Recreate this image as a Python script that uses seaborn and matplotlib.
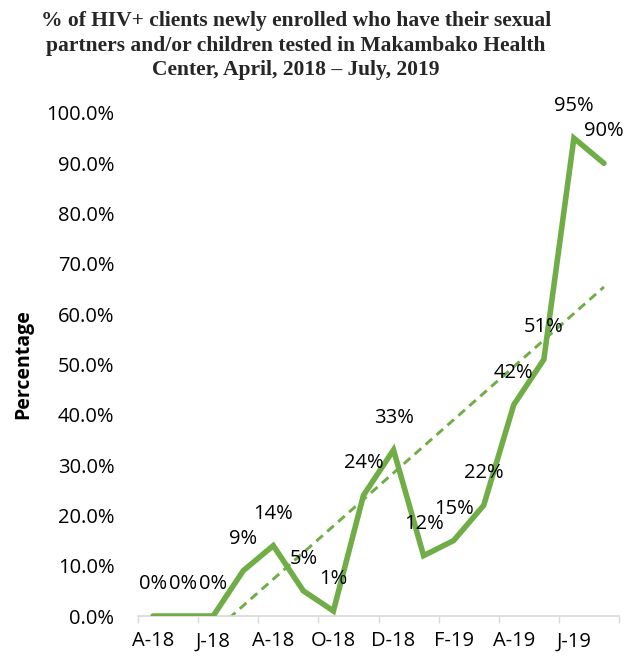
import numpy as np
import pandas as pd
import seaborn as sns
import matplotlib
matplotlib.use("Agg")
import matplotlib.pyplot as plt
from matplotlib.ticker import FixedLocator, PercentFormatter

months = ["A-18", "M-18", "J-18", "J-18", "A-18", "S-18", "O-18", "N-18",
          "D-18", "J-19", "F-19", "M-19", "A-19", "M-19", "J-19", "J-19"]
values = [0, 0, 0, 9, 14, 5, 1, 24, 33, 12, 15, 22, 42, 51, 95, 90]
labels = [f"{v}%" for v in values]
yticks = [0, 10, 20, 30, 40, 50, 60, 70, 80, 90, 100]

title = ("% of HIV+ clients newly enrolled who have their sexual\n"
         "partners and/or children tested in Makambako Health\n"
         "Center, April, 2018 \u2013 July, 2019")

sns.set_theme(style="white")
plt.rcParams["font.family"] = ["Open Sans", "DejaVu Sans"]

green = "#70AD47"
fs = 14.5
df = pd.DataFrame({"pos": np.arange(len(values)), "value": values})

fig = plt.figure(figsize=(6.35, 6.56), dpi=100)
ax = fig.add_axes([138/635, 40/656, (619-138)/635, (616-113)/656])

sns.lineplot(data=df, x="pos", y="value", ax=ax, color=green, linewidth=4.0,
             solid_joinstyle="miter", solid_capstyle="round", zorder=3)

# linear trendline
coef = np.polyfit(df["pos"] + 1, df["value"], 1)
trend = np.polyval(coef, df["pos"] + 1)
ax.plot(df["pos"], trend, color=green, linewidth=2.1, linestyle=(0, (3.0, 2.0)),
        zorder=2)

for x, v, lab in zip(df["pos"], values, labels):
    ax.annotate(lab, (x, v), xytext=(0, 32), textcoords="offset pixels",
                ha="center", va="center", fontsize=fs, color="#000000",
                annotation_clip=False)

ax.set_xlim(-0.5, len(values) - 0.5)
ax.set_ylim(0, 100)
ax.set_yticks(yticks)
ax.yaxis.set_major_formatter(PercentFormatter(decimals=1))
ax.tick_params(axis="y", length=0, labelsize=fs, pad=17, colors="#000000")

# boundary ticks (major) & label positions (minor)
ax.xaxis.set_major_locator(FixedLocator(np.arange(-0.5, len(values), 2)))
ax.xaxis.set_minor_locator(FixedLocator(np.arange(0, len(values), 2)))
ax.set_xticklabels([])
ax.set_xticklabels([months[i] for i in range(0, len(values), 2)], minor=True)
ax.tick_params(axis="x", which="major", length=5, width=1, color="#D9D9D9",
               direction="out", bottom=True)
ax.tick_params(axis="x", which="minor", length=0, labelsize=fs, pad=11,
               colors="#000000")

for s in ["top", "right", "left"]:
    ax.spines[s].set_visible(False)
ax.spines["bottom"].set_color("#D9D9D9")
ax.spines["bottom"].set_linewidth(1.2)
ax.grid(False)

ax.set_xlabel("")
ax.set_ylabel("Percentage", fontsize=14, fontweight="bold", color="#000000")
ax.yaxis.set_label_coords(-0.218, 0.5)

fig.text(296/635, 1 - 11/656, title, ha="center", va="top",
         fontfamily="Liberation Serif", fontweight="bold", fontsize=15.5,
         linespacing=1.3)

fig.savefig("out.png", dpi=100, facecolor="white")
